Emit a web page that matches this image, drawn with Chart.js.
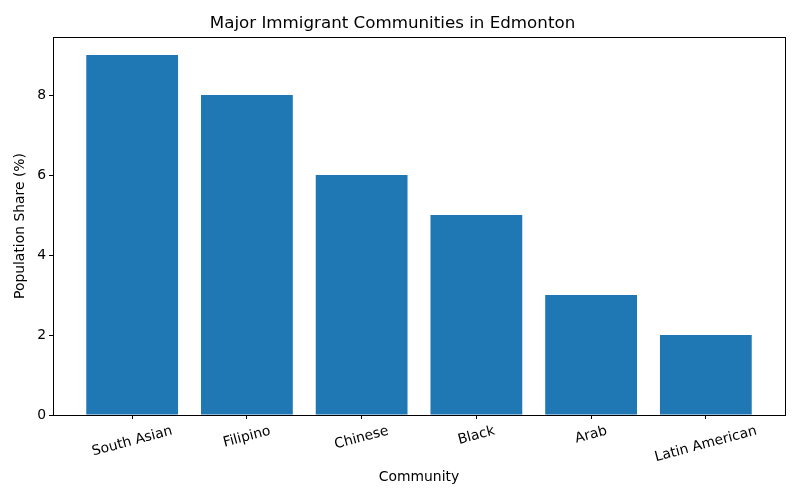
<!DOCTYPE html>
<html lang="en">
<head>
  <meta charset="UTF-8">
  <title>Major Immigrant Communities in Edmonton</title>
  <script src="https://cdn.jsdelivr.net/npm/chart.js"></script>
  <style>
    body { margin: 0; background: #fff; }
    #wrap { width: 800px; height: 500px; }
  </style>
</head>
<body>
  <div id="wrap"><canvas id="chart" width="800" height="500"></canvas></div>
  <script>
    // chart data
    const communities = ['South Asian', 'Filipino', 'Chinese', 'Black', 'Arab', 'Latin American'];
    const shares = [9, 8, 6, 5, 3, 2];
    const yTicks = [0, 2, 4, 6, 8];

    const FONT = "'DejaVu Sans', sans-serif";

    // draws the full box round the plot and the rotated category labels (centred like matplotlib)
    const framePlugin = {
      id: 'frame',
      afterDraw(chart) {
        const ctx = chart.ctx;
        const a = chart.chartArea;
        ctx.save();
        ctx.strokeStyle = '#000';
        ctx.lineWidth = 1;
        ctx.strokeRect(Math.round(a.left) + 0.5, Math.round(a.top) + 0.5,
          Math.round(a.right - a.left), Math.round(a.bottom - a.top));

        const xs = chart.scales.x;
        const ang = 15 * Math.PI / 180;
        ctx.font = '13.9px ' + FONT;
        ctx.fillStyle = '#000';
        ctx.textAlign = 'center';
        ctx.textBaseline = 'middle';
        communities.forEach((name, i) => {
          const w = ctx.measureText(name).width;
          const h = 16;
          const boxH = w * Math.sin(ang) + h * Math.cos(ang);
          const cx = xs.getPixelForValue(i);
          const cy = a.bottom + 8 + boxH / 2;
          ctx.save();
          ctx.translate(cx, cy);
          ctx.rotate(-ang);
          ctx.fillText(name, 0, 0);
          ctx.restore();
        });
        ctx.restore();
      }
    };

    new Chart(document.getElementById('chart'), {
      type: 'bar',
      data: {
        datasets: [{
          data: shares.map((v, i) => ({ x: i, y: v })),
          backgroundColor: '#1f77b4',
          borderWidth: 0,
          barPercentage: 0.8,
          categoryPercentage: 1.0
        }]
      },
      options: {
        responsive: false,
        animation: false,
        layout: { padding: { left: 0, right: 15, top: 0, bottom: 0 } },
        plugins: {
          legend: { display: false },
          tooltip: { enabled: false },
          title: {
            display: true,
            text: 'Major Immigrant Communities in Edmonton',
            color: '#000',
            font: { family: FONT, size: 16.7, weight: 'normal' },
            padding: { top: 14, bottom: 3 }
          }
        },
        scales: {
          x: {
            type: 'linear',
            min: -0.69,
            max: 5.69,
            offset: false,
            afterBuildTicks: s => { s.ticks = communities.map((c, i) => ({ value: i })); },
            afterFit: s => { s.height = 85; },
            ticks: { display: false },
            grid: { offset: false, drawOnChartArea: false, tickLength: 4, tickColor: '#000' },
            border: { color: '#000' },
            title: {
              display: true,
              text: 'Community',
              color: '#000',
              font: { family: FONT, size: 13.9 },
              padding: { top: 0, bottom: 14 }
            }
          },
          y: {
            min: 0,
            max: 9.45,
            afterBuildTicks: s => { s.ticks = yTicks.map(v => ({ value: v })); },
            afterFit: s => { s.width = 53; },
            ticks: { color: '#000', font: { family: FONT, size: 13.9 }, padding: 3 },
            grid: { drawOnChartArea: false, tickLength: 4, tickColor: '#000' },
            border: { color: '#000' },
            title: {
              display: true,
              text: 'Population Share (%)',
              color: '#000',
              font: { family: FONT, size: 13.9 },
              padding: { top: 12, bottom: 0 }
            }
          }
        }
      },
      plugins: [framePlugin]
    });
  </script>
</body>
</html>
